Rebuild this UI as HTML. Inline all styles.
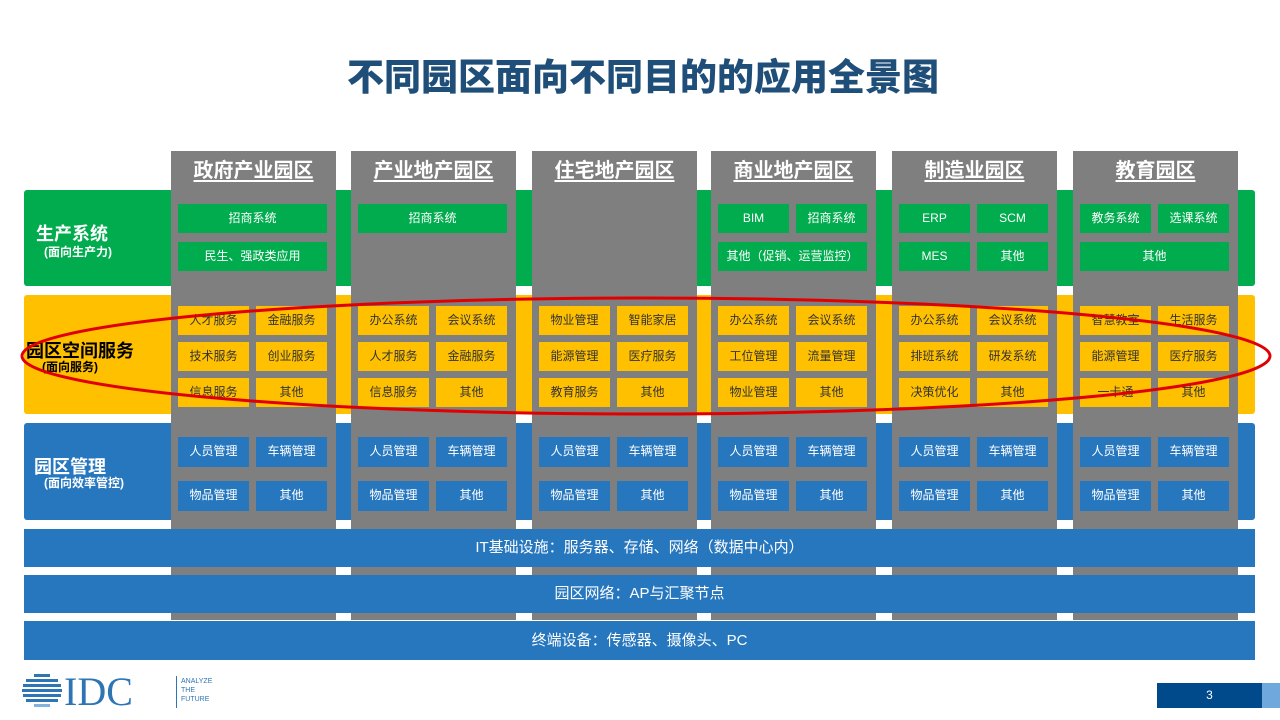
<!DOCTYPE html>
<html><head><meta charset="utf-8"><style>
*{margin:0;padding:0;box-sizing:border-box}
body{width:1280px;height:720px;position:relative;background:#fff;overflow:hidden;font-family:"Liberation Sans","Noto Sans CJK SC",sans-serif}
.a{position:absolute}
.band{position:absolute;left:24px;width:1231px;border-radius:3px}
.col{position:absolute;top:151px;width:165px;height:469px;background:#7f7f7f}
.col h2{position:absolute;top:6px;left:0;width:100%;text-align:center;color:#fff;font-size:20px;font-weight:bold;text-decoration:underline;text-underline-offset:3px;line-height:28px}
.b{position:absolute;height:29px;line-height:29px;text-align:center;font-size:12px;color:#fff;white-space:nowrap}
.g{background:#00ac4e}.y{background:#ffc000;color:#333}.bl{background:#2777bf}
.h1{left:7px;width:71px}.h2{left:85px;width:71px}.f{left:7px;width:149px}
.bar{position:absolute;left:24px;width:1231px;background:#2777bf;color:#fff;text-align:center;font-size:15px}
.lab{position:absolute;font-weight:bold}
</style></head><body>
<div class="a" style="left:0;top:56px;width:1286px;text-align:center;font-size:37px;font-weight:900;color:#1f4e79;line-height:44px;letter-spacing:0">不同园区面向不同目的的应用全景图</div>

<div class="band" style="top:190px;height:96px;background:#00ac4e"></div>
<div class="band" style="top:295px;height:119px;background:#ffc000"></div>
<div class="band" style="top:423px;height:97px;background:#2777bf"></div>

<div class="lab" style="left:36px;top:220px;color:#fff;font-size:18px">生产系统</div>
<div class="lab" style="left:44px;top:243px;color:#fff;font-size:12px">(面向生产力)</div>
<div class="lab" style="left:26px;top:337px;color:#000;font-size:18px">园区空间服务</div>
<div class="lab" style="left:42px;top:358px;color:#000;font-size:12px">(面向服务)</div>
<div class="lab" style="left:34px;top:453px;color:#fff;font-size:18px">园区管理</div>
<div class="lab" style="left:44px;top:474px;color:#fff;font-size:12px">(面向效率管控)</div>

<div class="col" style="left:171px"><h2>政府产业园区</h2>
<div class="b g f" style="top:53px">招商系统</div><div class="b g f" style="top:91px">民生、强政类应用</div>
<div class="b y h1" style="top:155px">人才服务</div><div class="b y h2" style="top:155px">金融服务</div>
<div class="b y h1" style="top:191px">技术服务</div><div class="b y h2" style="top:191px">创业服务</div>
<div class="b y h1" style="top:227px">信息服务</div><div class="b y h2" style="top:227px">其他</div>
<div class="b bl h1" style="top:286px;height:30px">人员管理</div><div class="b bl h2" style="top:286px;height:30px">车辆管理</div>
<div class="b bl h1" style="top:330px;height:30px">物品管理</div><div class="b bl h2" style="top:330px;height:30px">其他</div>
</div>
<div class="col" style="left:351px"><h2>产业地产园区</h2>
<div class="b g f" style="top:53px">招商系统</div>
<div class="b y h1" style="top:155px">办公系统</div><div class="b y h2" style="top:155px">会议系统</div>
<div class="b y h1" style="top:191px">人才服务</div><div class="b y h2" style="top:191px">金融服务</div>
<div class="b y h1" style="top:227px">信息服务</div><div class="b y h2" style="top:227px">其他</div>
<div class="b bl h1" style="top:286px;height:30px">人员管理</div><div class="b bl h2" style="top:286px;height:30px">车辆管理</div>
<div class="b bl h1" style="top:330px;height:30px">物品管理</div><div class="b bl h2" style="top:330px;height:30px">其他</div>
</div>
<div class="col" style="left:532px"><h2>住宅地产园区</h2>
<div class="b y h1" style="top:155px">物业管理</div><div class="b y h2" style="top:155px">智能家居</div>
<div class="b y h1" style="top:191px">能源管理</div><div class="b y h2" style="top:191px">医疗服务</div>
<div class="b y h1" style="top:227px">教育服务</div><div class="b y h2" style="top:227px">其他</div>
<div class="b bl h1" style="top:286px;height:30px">人员管理</div><div class="b bl h2" style="top:286px;height:30px">车辆管理</div>
<div class="b bl h1" style="top:330px;height:30px">物品管理</div><div class="b bl h2" style="top:330px;height:30px">其他</div>
</div>
<div class="col" style="left:711px"><h2>商业地产园区</h2>
<div class="b g h1" style="top:53px">BIM</div><div class="b g h2" style="top:53px">招商系统</div>
<div class="b g f" style="top:91px">其他（促销、运营监控）</div>
<div class="b y h1" style="top:155px">办公系统</div><div class="b y h2" style="top:155px">会议系统</div>
<div class="b y h1" style="top:191px">工位管理</div><div class="b y h2" style="top:191px">流量管理</div>
<div class="b y h1" style="top:227px">物业管理</div><div class="b y h2" style="top:227px">其他</div>
<div class="b bl h1" style="top:286px;height:30px">人员管理</div><div class="b bl h2" style="top:286px;height:30px">车辆管理</div>
<div class="b bl h1" style="top:330px;height:30px">物品管理</div><div class="b bl h2" style="top:330px;height:30px">其他</div>
</div>
<div class="col" style="left:892px"><h2>制造业园区</h2>
<div class="b g h1" style="top:53px">ERP</div><div class="b g h2" style="top:53px">SCM</div>
<div class="b g h1" style="top:91px">MES</div><div class="b g h2" style="top:91px">其他</div>
<div class="b y h1" style="top:155px">办公系统</div><div class="b y h2" style="top:155px">会议系统</div>
<div class="b y h1" style="top:191px">排班系统</div><div class="b y h2" style="top:191px">研发系统</div>
<div class="b y h1" style="top:227px">决策优化</div><div class="b y h2" style="top:227px">其他</div>
<div class="b bl h1" style="top:286px;height:30px">人员管理</div><div class="b bl h2" style="top:286px;height:30px">车辆管理</div>
<div class="b bl h1" style="top:330px;height:30px">物品管理</div><div class="b bl h2" style="top:330px;height:30px">其他</div>
</div>
<div class="col" style="left:1073px"><h2>教育园区</h2>
<div class="b g h1" style="top:53px">教务系统</div><div class="b g h2" style="top:53px">选课系统</div>
<div class="b g f" style="top:91px">其他</div>
<div class="b y h1" style="top:155px">智慧教室</div><div class="b y h2" style="top:155px">生活服务</div>
<div class="b y h1" style="top:191px">能源管理</div><div class="b y h2" style="top:191px">医疗服务</div>
<div class="b y h1" style="top:227px">一卡通</div><div class="b y h2" style="top:227px">其他</div>
<div class="b bl h1" style="top:286px;height:30px">人员管理</div><div class="b bl h2" style="top:286px;height:30px">车辆管理</div>
<div class="b bl h1" style="top:330px;height:30px">物品管理</div><div class="b bl h2" style="top:330px;height:30px">其他</div>
</div>

<div class="bar" style="top:529px;height:38px;line-height:38px">IT基础设施：服务器、存储、网络（数据中心内）</div>
<div class="bar" style="top:575px;height:38px;line-height:38px">园区网络：AP与汇聚节点</div>
<div class="bar" style="top:621px;height:39px;line-height:39px">终端设备：传感器、摄像头、PC</div>

<svg class="a" style="left:0;top:0" width="1280" height="720"><ellipse cx="646" cy="356" rx="624" ry="58" fill="none" stroke="#e00000" stroke-width="3"/></svg>

<svg class="a" style="left:22px;top:672px" width="40" height="40">
<g fill="#2e75b6"><rect x="12" y="2" width="16" height="3"/><rect x="4" y="7" width="32" height="3"/><rect x="1" y="12" width="38" height="3"/><rect x="0" y="17" width="40" height="3"/><rect x="1" y="22" width="38" height="3"/><rect x="4" y="27" width="32" height="3"/></g><rect x="12" y="32" width="16" height="3" fill="#7fb3e0"/></svg>
<div class="a" style="left:64px;top:670px;font-family:'Liberation Serif',serif;font-size:40px;line-height:44px;color:#2e75b6">IDC</div>
<div class="a" style="left:176px;top:676px;width:1px;height:32px;background:#2e75b6"></div>
<div class="a" style="left:181px;top:677px;font-size:7px;line-height:9px;color:#2e75b6">ANALYZE<br>THE<br>FUTURE</div>
<div class="a" style="left:1157px;top:683px;width:105px;height:25px;background:#004a8c;color:#fff;font-size:12px;text-align:center;line-height:25px">3</div>
<div class="a" style="left:1262px;top:683px;width:18px;height:25px;background:#6fa8dc"></div>
</body></html>
